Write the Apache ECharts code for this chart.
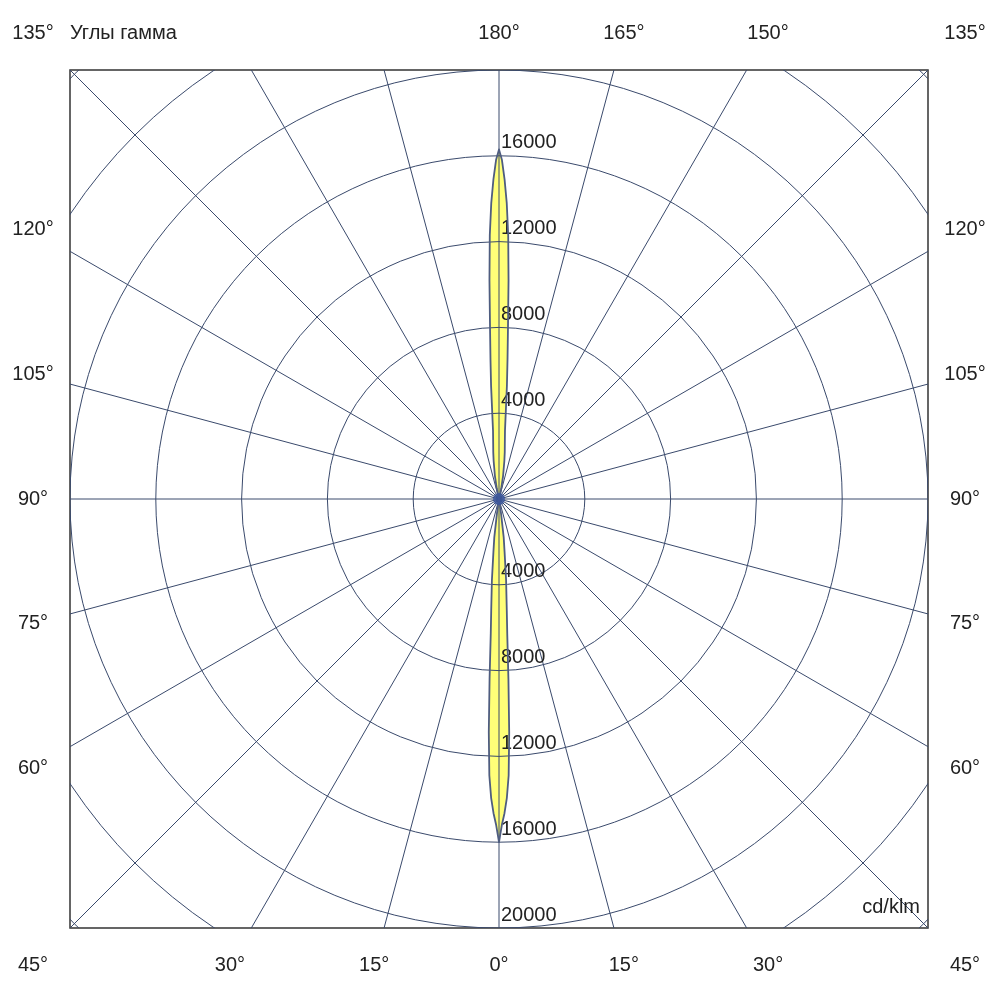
<!DOCTYPE html>
<html>
<head>
<meta charset="utf-8">
<script src="https://cdn.jsdelivr.net/npm/echarts@6/dist/echarts.min.js"></script>
<style>
html,body{margin:0;background:#fff}
#chart{width:1000px;height:1000px}
</style>
</head>
<body>
<div id="chart"></div>
<script>
// кривая силы света, cd/klm (нижний лепесток у 0°, верхний у 180°)
var gammaBottom = [0,0.5,1,1.5,2,2.5,3,3.5,4,5,6,7,8,9,10]
var intensityBottom = [16000,15200,14650,13950,12900,10900,8400,6300,5200,3800,2500,1800,700,200,0]
var gammaTop = [180,179.5,179,178.5,178,177.5,177,176.5,176,175,174,173,172,170,168,166]
var intensityTop = [16300,15800,14900,13800,12300,10200,8000,6500,5300,3200,2600,2200,1800,1100,500,0]

// сетка
var rings = [4000,8000,12000,16000,20000,24000,28000]
var spokes = [0,15,30,45,60,75,90,105,120,135,150,165]
var leftGamma = [135,120,105,90,75,60,45,30,15]
var rightGamma = [180,165,150,135,120,105,90,75,60,45,30,15,0]
var rangeMax = 20000

var FONT = '20px "Liberation Sans", Arial, sans-serif'
var GRID_COLOR = '#3a4a6c'
var TEXT_COLOR = '#222'

// точка в координатах графика: side = -1 слева, +1 справа
const toXY = (side,gamma,value)=>{
    var a = gamma*Math.PI/180
    return [side*value*Math.sin(a), -value*Math.cos(a)]
}

var beam = []
for (var i=gammaBottom.length-1;i>=0;i--) beam.push(toXY(1,gammaBottom[i],intensityBottom[i]))
for (var i=0;i<gammaBottom.length;i++) beam.push(toXY(-1,gammaBottom[i],intensityBottom[i]))
for (var i=gammaTop.length-1;i>=0;i--) beam.push(toXY(-1,gammaTop[i],intensityTop[i]))
for (var i=0;i<gammaTop.length;i++) beam.push(toXY(1,gammaTop[i],intensityTop[i]))

const beamItem = (fill,stroke)=>(params,api)=>({
    type:'polygon',
    shape:{points: beam.map(p=>api.coord(p))},
    style:{fill: fill, stroke: stroke, lineWidth: 1.8, lineJoin:'round'}
})

var echart = echarts.init(document.getElementById('chart'))
var options = {
    animation:false,
    grid:{left:70,top:70,width:858,height:858,show:true,borderColor:'#333',borderWidth:1.5,backgroundColor:'#fff'},
    xAxis:{type:'value',min:-rangeMax,max:rangeMax,show:false},
    yAxis:{type:'value',min:-rangeMax,max:rangeMax,show:false},
    series:[
        {type:'custom',z:1,clip:true,data:[0],renderItem:beamItem('#ffff78',null)},
        {type:'custom',z:2,clip:true,data:spokes.map(g=>[g]),
            renderItem:(params,api)=>{
                var g = spokes[params.dataIndex]
                var p1 = api.coord(toXY(1,g,60000))
                var p2 = api.coord(toXY(1,g+180,60000))
                return {type:'line',shape:{x1:p1[0],y1:p1[1],x2:p2[0],y2:p2[1]},
                    style:{stroke:GRID_COLOR,lineWidth:1}}
            }},
        {type:'custom',z:2,clip:true,data:rings.map(v=>[v]),
            renderItem:(params,api)=>{
                var v = rings[params.dataIndex]
                var c = api.coord([0,0])
                var r = api.size([v,0])[0]
                var label = (y)=>({type:'text',x:c[0]+2,y:y,
                    style:{text:String(v),font:FONT,fill:TEXT_COLOR,align:'left',verticalAlign:'middle'}})
                return {type:'group',children:[
                    {type:'circle',shape:{cx:c[0],cy:c[1],r:r},style:{fill:null,stroke:GRID_COLOR,lineWidth:1}},
                    label(c[1]-r-13),
                    label(c[1]+r-13)
                ]}
            }},
        {type:'custom',z:3,clip:true,data:[0],renderItem:beamItem(null,'#4f5d80')},
        {type:'scatter',z:4,data:[[0,0]],symbolSize:12,itemStyle:{color:'#3b57a0'},silent:true}
    ]
}
echart.setOption(options)

// подписи углов по рамке
var c = echart.convertToPixel({gridIndex:0},[0,0])
var edge = echart.convertToPixel({gridIndex:0},[rangeMax,0])[0]-c[0]
var dist = edge+37
var texts = []
const gammaText = (side,g)=>{
    var a = g*Math.PI/180
    var dx = side*Math.sin(a), dy = Math.cos(a)
    var t = dist/Math.max(Math.abs(dx),Math.abs(dy))
    return {type:'text',x:c[0]+dx*t,y:c[1]+dy*t,z:10,
        style:{text:g+'°',font:FONT,fill:TEXT_COLOR,align:'center',verticalAlign:'middle'}}
}
leftGamma.forEach(g=>texts.push(gammaText(-1,g)))
rightGamma.forEach(g=>texts.push(gammaText(1,g)))
texts.push({type:'text',x:c[0]-edge,y:c[1]-dist,z:10,
    style:{text:'Углы гамма',font:FONT,fill:TEXT_COLOR,align:'left',verticalAlign:'middle'}})
texts.push({type:'text',x:c[0]+edge-8,y:c[1]+edge-21,z:10,
    style:{text:'cd/klm',font:FONT,fill:TEXT_COLOR,align:'right',verticalAlign:'middle'}})
echart.setOption({graphic:texts})
</script>
</body>
</html>
